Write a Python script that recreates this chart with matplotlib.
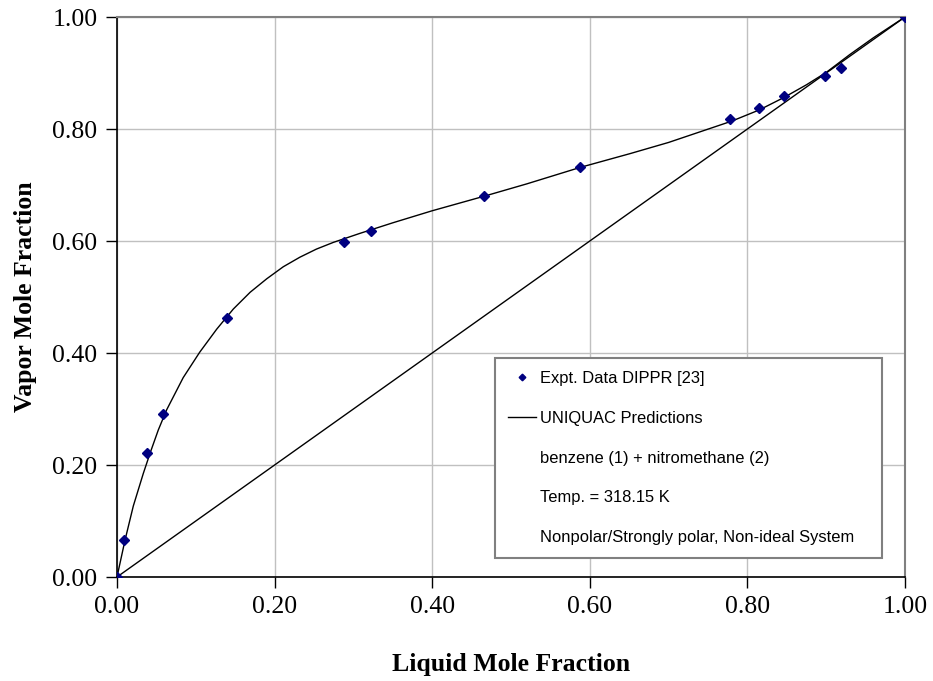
import matplotlib
matplotlib.use("Agg")
import matplotlib.pyplot as plt
from matplotlib.lines import Line2D
from matplotlib.legend_handler import HandlerLine2D
import numpy as np

# Experimental data (DIPPR)
x_exp = [0.0, 0.009, 0.038, 0.058, 0.140, 0.288, 0.322, 0.466, 0.588,
         0.778, 0.815, 0.846, 0.898, 0.919, 1.0]
y_exp = [0.0, 0.066, 0.221, 0.291, 0.4625, 0.598, 0.618, 0.680, 0.732,
         0.818, 0.8375, 0.859, 0.895, 0.909, 1.0]

# UNIQUAC prediction curve
x_uniq = [0.0, 0.0102, 0.0207, 0.0334, 0.0423, 0.0524, 0.063, 0.084,
          0.105, 0.1265, 0.1476, 0.169, 0.190, 0.211, 0.232, 0.253,
          0.2745, 0.308, 0.35, 0.40, 0.466, 0.52, 0.588, 0.651, 0.70,
          0.74, 0.78, 0.815, 0.846, 0.875, 0.90, 0.93, 0.96, 1.0]
y_uniq = [0.0, 0.066, 0.1268, 0.185, 0.2225, 0.2625, 0.2985, 0.356,
          0.4015, 0.4425, 0.4785, 0.5085, 0.5325, 0.554, 0.571, 0.5855,
          0.5975, 0.6135, 0.6325, 0.654, 0.680, 0.702, 0.7315, 0.756, 0.776,
          0.795, 0.814, 0.834, 0.856, 0.879, 0.901, 0.933, 0.963, 1.0]

# Diagonal y = x
x_diag = [0.0, 1.0]
y_diag = [0.0, 1.0]

ticks = [0.0, 0.2, 0.4, 0.6, 0.8, 1.0]
tick_labels = ["0.00", "0.20", "0.40", "0.60", "0.80", "1.00"]

legend_labels = ["Expt. Data DIPPR [23]", "UNIQUAC Predictions",
                 "benzene (1) + nitromethane (2)", "Temp. = 318.15 K",
                 "Nonpolar/Strongly polar, Non-ideal System"]


class RightMarkerHandler(HandlerLine2D):
    def get_xdata(self, legend, xdescent, ydescent, width, height, fontsize):
        xdata = np.array([-xdescent, -xdescent + width], float)
        xdata_marker = np.array([-xdescent + width - 0.3 * fontsize], float)
        return xdata, xdata_marker


fig = plt.figure(figsize=(9.33, 6.81), dpi=100)
ax = fig.add_axes([117/933, 1-577/681, 788/933, 560/681])

ax.grid(True, color="#c0c0c0", linewidth=1.0)
ax.set_axisbelow(True)

ax.plot(x_diag, y_diag, color="black", linewidth=1.0, zorder=2)
ax.plot(x_uniq, y_uniq, color="black", linewidth=1.0, zorder=2)
ax.plot(x_exp, y_exp, linestyle="none", marker="D", markersize=5.2,
        color="#000080", zorder=3)

ax.set_xlim(0, 1)
ax.set_ylim(0, 1)
ax.set_xticks(ticks)
ax.set_xticklabels(tick_labels)
ax.set_yticks(ticks)
ax.set_yticklabels(tick_labels)

serif = "Liberation Serif"
for lab in ax.get_xticklabels() + ax.get_yticklabels():
    lab.set_fontfamily(serif)
    lab.set_fontsize(18.5)
ax.tick_params(direction="out", length=8, width=1, color="black", pad=6)
ax.tick_params(axis="x", pad=6)

for s in ["left", "bottom"]:
    ax.spines[s].set_color("black")
    ax.spines[s].set_linewidth(1.2)
for s in ["top", "right"]:
    ax.spines[s].set_color("#808080")
    ax.spines[s].set_linewidth(1.5)

ax.set_xlabel("Liquid Mole Fraction", fontfamily=serif, fontweight="bold",
              fontsize=18.5, labelpad=25)
ax.set_ylabel("Vapor Mole Fraction", fontfamily=serif, fontweight="bold",
              fontsize=18.5, labelpad=11)

marker_handle = Line2D([], [], linestyle="none", marker="D", markersize=5.2,
                       color="#000080")
handles = [
    marker_handle,
    Line2D([], [], color="black", linewidth=1.0),
    Line2D([], [], linestyle="none"),
    Line2D([], [], linestyle="none"),
    Line2D([], [], linestyle="none"),
]
leg = ax.legend(handles, legend_labels, loc="upper left",
                bbox_to_anchor=(0.480, 0.391, 0.491, 0.0), mode="expand",
                prop={"family": "Liberation Sans", "size": 11.85},
                frameon=True, fancybox=False, framealpha=1,
                edgecolor="#808080", borderaxespad=0, markerscale=0.65,
                handlelength=1.65, handletextpad=0.25, labelspacing=1.5,
                borderpad=0.8,
                handler_map={marker_handle: RightMarkerHandler()})
leg.get_frame().set_linewidth(1.5)

fig.savefig("out.png", dpi=100)
